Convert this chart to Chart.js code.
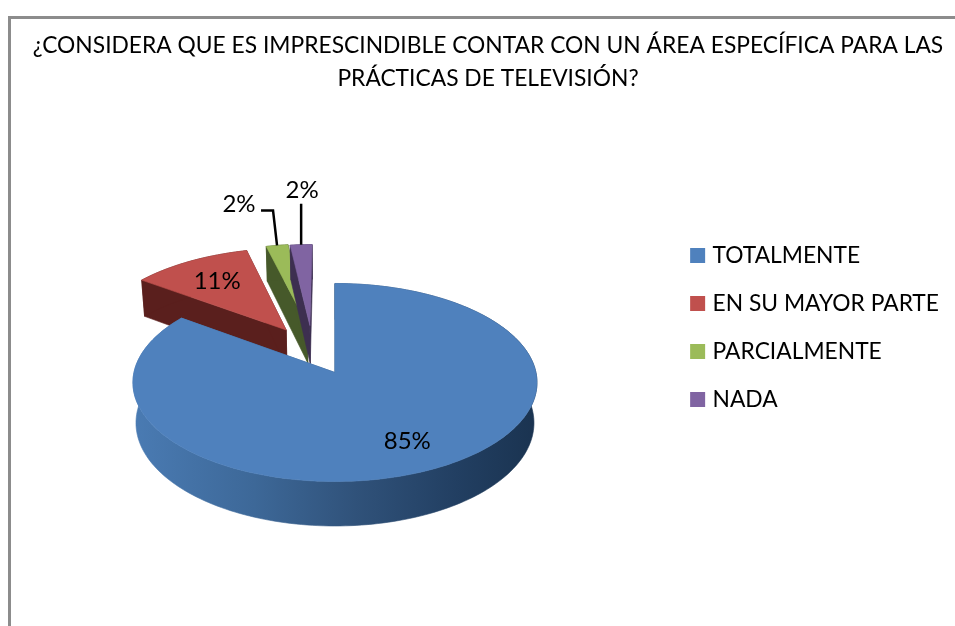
<!DOCTYPE html>
<html>
<head>
<meta charset="utf-8">
<script src="https://cdn.jsdelivr.net/npm/chart.js@4"></script>
<style>
  html, body { margin: 0; padding: 0; background: #fff; }
  #wrap { position: relative; width: 955px; height: 626px; overflow: hidden; }
</style>
</head>
<body>
<div id="wrap"><canvas id="pieChart" width="955" height="626"></canvas></div>
<script>
const titleLines = ['¿CONSIDERA QUE ES IMPRESCINDIBLE CONTAR CON UN ÁREA ESPECÍFICA PARA LAS', 'PRÁCTICAS DE TELEVISIÓN?'];
const categories = ['TOTALMENTE', 'EN SU MAYOR PARTE', 'PARCIALMENTE', 'NADA'];
const percentages = [85, 11, 2, 2];

const fontName = 'Lato, "Open Sans", sans-serif';
const topColors = ['#4f81bd', '#c0504d', '#9bbb59', '#8064a2'];
const sideColors = ['#30527a', '#5a1f1d', '#46592a', '#3d2f50'];

// how the flat pie is tilted on screen
const tilt = { shiftX: -13, shiftY: 7, rx: 201, ry: 98, persp: 0.101, depth: 40, shrink: 0.985 };
// slices pulled out of the pie: distance in radii, and turn from the mid angle in degrees
const explode = [0, 0.52, 0.53, 0.52];
const explodeTurn = [0, 5, -5, -11];
// label placing: radius fraction inside the slice, or leader line for the thin ones
const labelRadius = [0.74, 0.7, null, null];
const leaders = [null, null, { bend: [-4, -35], end: [-16, -35], text: [-38, -41] }, { bend: [0, -41], end: [0, -41], text: [1, -54] }];

function project(chart, u, v, low) {
  const arc = chart.getDatasetMeta(0).data[0];
  const k = 1 + tilt.persp * v;
  let x = tilt.rx * u / k;
  let y = -tilt.ry * v / k;
  if (low) {
    x *= tilt.shrink;
    y += tilt.depth / k;
  }
  return { x: arc.x + tilt.shiftX + x, y: arc.y + tilt.shiftY + y };
}

function sliceOutline(arc, i) {
  const mid = (arc.startAngle + arc.endAngle) / 2 + explodeTurn[i] * Math.PI / 180;
  const ou = Math.cos(mid) * explode[i];
  const ov = -Math.sin(mid) * explode[i];
  const pts = [[ou, ov]];
  const steps = Math.max(6, Math.ceil((arc.endAngle - arc.startAngle) * 40));
  for (let s = 0; s <= steps; s++) {
    const a = arc.startAngle + (arc.endAngle - arc.startAngle) * s / steps;
    pts.push([ou + Math.cos(a), ov - Math.sin(a)]);
  }
  return pts;
}

function fillPath(ctx, pts) {
  ctx.beginPath();
  pts.forEach((p, n) => n ? ctx.lineTo(p.x, p.y) : ctx.moveTo(p.x, p.y));
  ctx.closePath();
  ctx.fill();
  ctx.stroke();
}

const framePlugin = {
  id: 'frame',
  beforeDraw(chart) {
    const ctx = chart.ctx;
    ctx.save();
    ctx.strokeStyle = '#8c8c8c';
    ctx.lineWidth = 3;
    ctx.beginPath();
    ctx.moveTo(9.5, 626);
    ctx.lineTo(9.5, 17.5);
    ctx.lineTo(955, 17.5);
    ctx.stroke();
    ctx.restore();
  }
};

const tiltedPiePlugin = {
  id: 'tiltedPie',
  beforeDatasetDraw(chart) {
    const ctx = chart.ctx;
    const arcs = chart.getDatasetMeta(0).data;
    ctx.save();
    ctx.lineWidth = 0.6;
    ctx.lineJoin = 'round';
    // back slices first, the big one goes over them
    [1, 2, 3, 0].forEach(i => {
      const outline = sliceOutline(arcs[i], i);
      const top = outline.map(p => project(chart, p[0], p[1], false));
      const low = outline.map(p => project(chart, p[0], p[1], true));
      let side = sideColors[i];
      if (i === 0) {
        const left = top.reduce((m, p) => Math.min(m, p.x), 1e4);
        const right = top.reduce((m, p) => Math.max(m, p.x), 0);
        side = ctx.createLinearGradient(left, 0, right, 0);
        side.addColorStop(0, '#4a7bb3');
        side.addColorStop(0.3, '#3d6898');
        side.addColorStop(0.55, '#30527a');
        side.addColorStop(0.8, '#223f62');
        side.addColorStop(1, '#1a3350');
      }
      ctx.fillStyle = side;
      ctx.strokeStyle = side;
      const last = top.length - 1;
      fillPath(ctx, [top[0], top[1], low[1], low[0]]);
      fillPath(ctx, [top[0], top[last], low[last], low[0]]);
      fillPath(ctx, top.slice(1).concat(low.slice(1).reverse()));
      ctx.fillStyle = topColors[i];
      ctx.strokeStyle = topColors[i];
      fillPath(ctx, top);
    });
    ctx.restore();
    return false;
  },
  afterDatasetsDraw(chart) {
    const ctx = chart.ctx;
    const arcs = chart.getDatasetMeta(0).data;
    ctx.save();
    ctx.font = '24px ' + fontName;
    ctx.fillStyle = '#000';
    ctx.strokeStyle = '#000';
    ctx.lineWidth = 2.5;
    ctx.textAlign = 'center';
    ctx.textBaseline = 'middle';
    arcs.forEach((arc, i) => {
      const text = percentages[i] + '%';
      const real = (arc.startAngle + arc.endAngle) / 2;
      const turned = real + explodeTurn[i] * Math.PI / 180;
      const ou = Math.cos(turned) * explode[i];
      const ov = -Math.sin(turned) * explode[i];
      if (labelRadius[i] !== null) {
        const p = project(chart, ou + Math.cos(real) * labelRadius[i], ov - Math.sin(real) * labelRadius[i], false);
        ctx.fillText(text, p.x, p.y);
      } else {
        const p = project(chart, ou + Math.cos(real), ov - Math.sin(real), false);
        const l = leaders[i];
        ctx.beginPath();
        ctx.moveTo(p.x, p.y);
        ctx.lineTo(p.x + l.bend[0], p.y + l.bend[1]);
        ctx.lineTo(p.x + l.end[0], p.y + l.end[1]);
        ctx.stroke();
        ctx.fillText(text, p.x + l.text[0], p.y + l.text[1]);
      }
    });
    ctx.restore();
  }
};

new Chart(document.getElementById('pieChart'), {
  type: 'pie',
  data: {
    labels: categories,
    datasets: [{
      data: percentages,
      backgroundColor: topColors,
      borderWidth: 0,
      radius: 201
    }]
  },
  options: {
    responsive: false,
    animation: false,
    layout: { padding: { left: 27, right: 6, top: 29, bottom: 0 } },
    plugins: {
      tooltip: { enabled: false },
      title: {
        display: true,
        text: titleLines,
        color: '#000',
        font: { family: fontName, size: 22.8, weight: 'normal', lineHeight: 1.447 },
        padding: { top: 0, bottom: 10 }
      },
      legend: {
        position: 'right',
        labels: {
          // small box with a thick border of the same colour: keeps the text close to the swatch
          boxWidth: 7,
          boxHeight: 7,
          padding: 25.2,
          color: '#000',
          font: { family: fontName, size: 22.8 },
          generateLabels(chart) {
            return Chart.overrides.pie.plugins.legend.labels.generateLabels(chart).map(item => {
              item.lineWidth = 8;
              item.strokeStyle = item.fillStyle;
              return item;
            });
          }
        }
      }
    }
  },
  plugins: [framePlugin, tiltedPiePlugin]
});
</script>
</body>
</html>
